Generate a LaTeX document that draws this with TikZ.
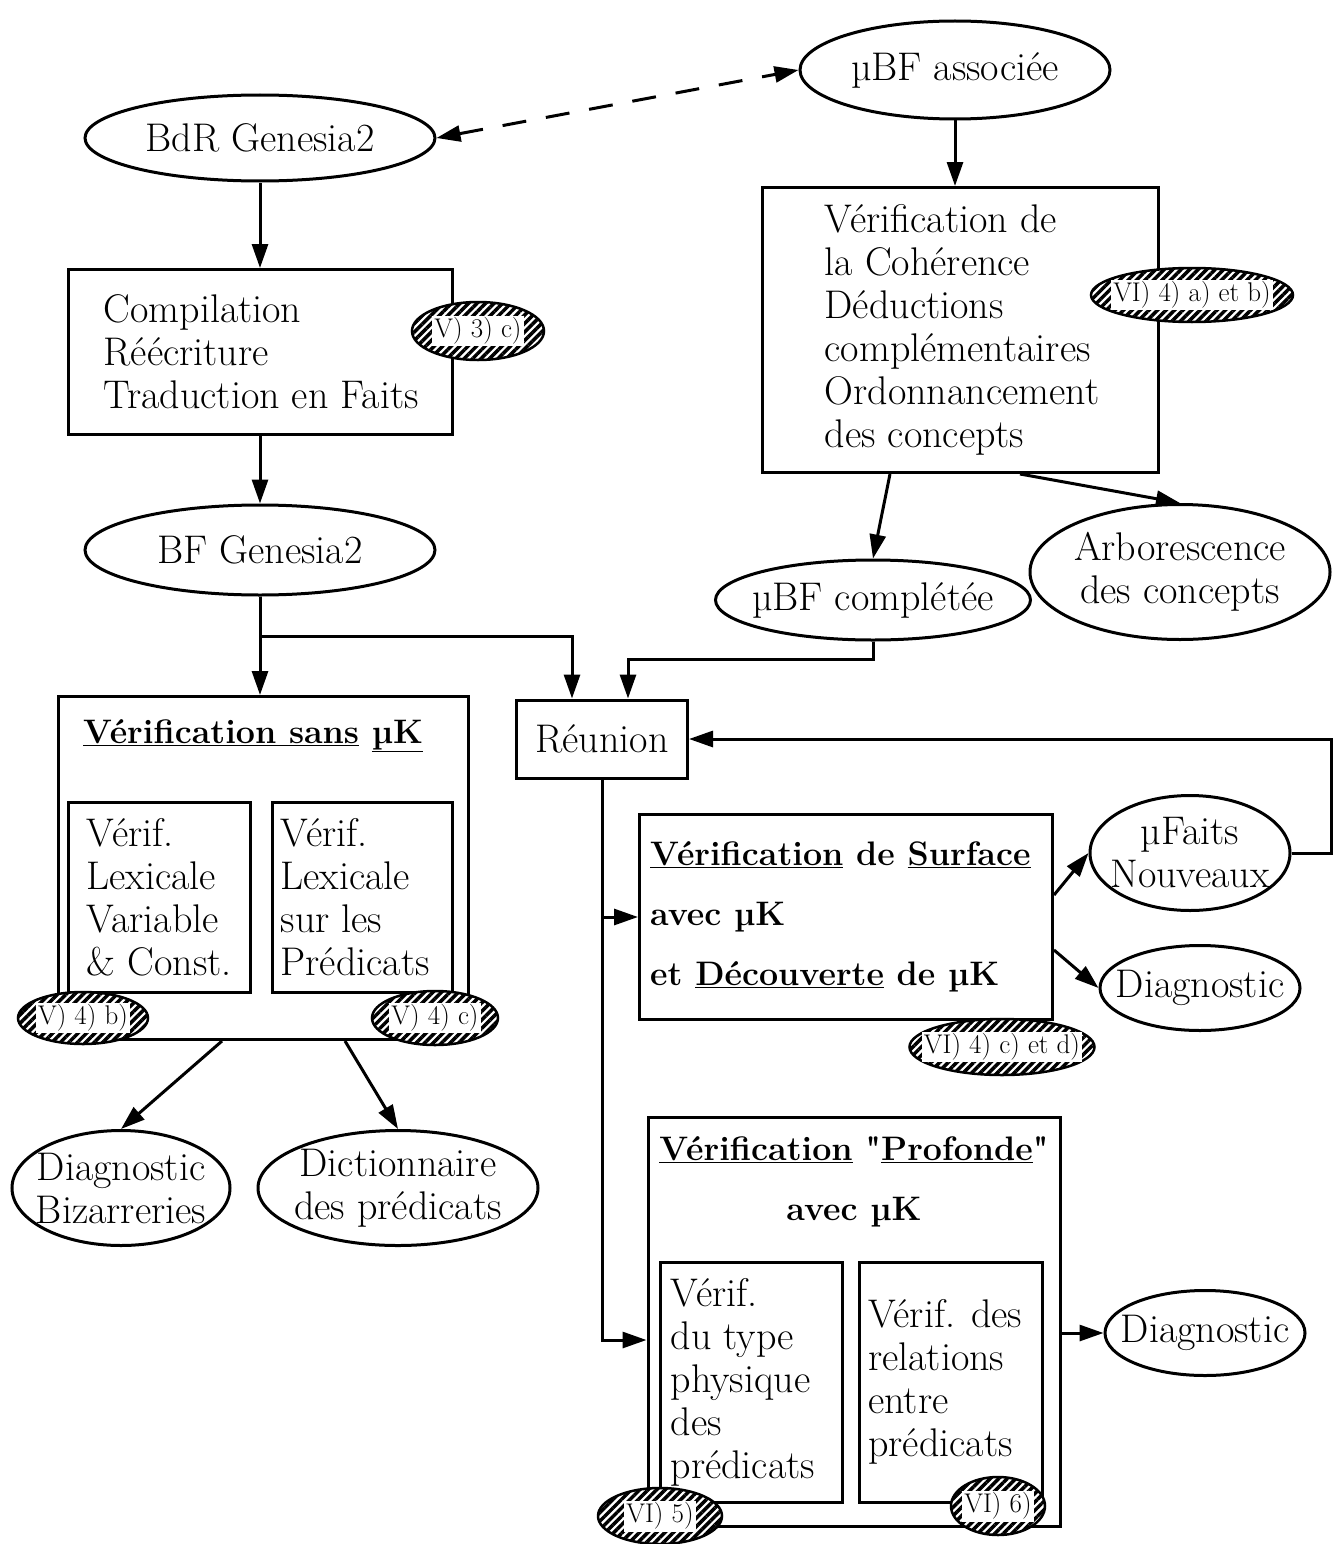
\documentclass[tikz,border=0pt]{standalone}
\usetikzlibrary{shapes.geometric,arrows.meta,patterns.meta,calc}

\newcommand{\txt}{\fontsize{40}{43}\selectfont}
\newcommand{\bfbig}{\fontsize{34}{43}\selectfont\bfseries}
\newcommand{\tagsize}{\fontsize{27}{29}\selectfont}

\tikzset{
	box/.style={draw,line width=3pt,inner sep=0pt},
	oval/.style={ellipse,draw,line width=3pt,inner sep=-20pt,align=center,font=\txt},
	tag/.style={ellipse,draw,line width=2.5pt,inner sep=0pt,preaction={fill=white},
		pattern={Lines[angle=45,distance=6pt,line width=3.5pt]},
		label={[fill=white,inner sep=2pt,font=\tagsize]center:#1}},
	lefttext/.style 2 args={label={[anchor=west,xshift=#1,inner sep=0pt,align=left,font=\txt]west:{#2}}},
	arr/.style={->,line width=3pt},
}

\begin{document}
\begin{tikzpicture}[x=1pt,y=-1pt,>={Triangle[length=24pt,width=16pt]}]
	\useasboundingbox (0,0) rectangle (1340,1544);

	\node[oval,minimum width=350pt,minimum height=86pt] (bdr) at (260,138) {BdR Genesia2};
	\node[box,minimum width=384pt,minimum height=165pt,lefttext={37pt}{Compilation\\Réécriture\\Traduction en Faits}] (comp) at (260,352) {};
	\node[oval,minimum width=350pt,minimum height=90pt] (bf) at (260,550) {BF Genesia2};

	\node[oval,minimum width=310pt,minimum height=98pt] (mubf) at (955,70) {µBF associée};
	\node[box,minimum width=396pt,minimum height=285pt,lefttext={64pt}{Vérification de\\la Cohérence\\Déductions\\complémentaires\\Ordonnancement\\des concepts}] (coh) at (960,330) {};
	\node[oval,minimum width=315pt,minimum height=80pt] (mubfc) at (873,600) {µBF complétée};
	\node[oval,minimum width=300pt,minimum height=135pt] (arbo) at (1180,572) {Arborescence\\des concepts};

	\node[box,minimum width=171pt,minimum height=78pt,font=\txt] (reun) at (602,739) {Réunion};

	\node[box,minimum width=410pt,minimum height=343pt,label={[anchor=north,xshift=-10pt,yshift=-24pt,inner sep=0pt,font=\bfbig]north:{\underline{Vérification sans} \underline{µK}}}] (vsans) at (263,868) {};
	\node[box,minimum width=182pt,minimum height=190pt,lefttext={20pt}{Vérif.\\Lexicale\\Variable\\\& Const.}] (vlex1) at (159,897) {};
	\node[box,minimum width=180pt,minimum height=190pt,lefttext={10pt}{Vérif.\\Lexicale\\sur les\\Prédicats}] (vlex2) at (362,897) {};
	\node[oval,minimum width=218pt,minimum height=115pt] (diagb) at (121,1188) {Diagnostic\\Bizarreries};
	\node[oval,minimum width=280pt,minimum height=115pt] (dico) at (398,1188) {Dictionnaire\\des prédicats};

	\node[box,minimum width=413pt,minimum height=205pt,label={[anchor=west,xshift=12pt,inner sep=0pt,align=left,font=\bfbig]west:{\underline{Vérification} de \underline{Surface}\\[17pt]avec µK\\[17pt]et \underline{Découverte} de µK}}] (vsurf) at (846,917) {};
	\node[oval,minimum width=200pt,minimum height=115pt] (mufaits) at (1190,853) {µFaits\\Nouveaux};
	\node[oval,minimum width=200pt,minimum height=85pt] (diag1) at (1200,988) {Diagnostic};

	\node[box,minimum width=412pt,minimum height=409pt,label={[anchor=north,yshift=-20pt,inner sep=0pt,align=center,font=\bfbig]north:{\underline{Vérification} \textquotedbl\underline{Profonde}\textquotedbl\\[17pt]avec µK}}] (vprof) at (854,1322) {};
	\node[box,minimum width=182pt,minimum height=240pt,lefttext={12pt}{Vérif.\\du type\\physique\\des\\prédicats}] (vtype) at (751,1382) {};
	\node[box,minimum width=183pt,minimum height=240pt,lefttext={10pt}{Vérif. des\\relations\\entre\\prédicats}] (vrel) at (951,1382) {};
	\node[oval,minimum width=200pt,minimum height=85pt] (diag2) at (1205,1333) {Diagnostic};

	\foreach \nm/\px/\py/\w/\h/\lbl in {r1/478/331/132/58/V) 3) c),r2/1192/295/202/54/VI) 4) a) et b),r3/83/1018/130/52/V) 4) b),r4/435/1018/126/54/V) 4) c),r5/1002/1047/185/56/VI) 4) c) et d),r6/660/1516/124/56/VI) 5),r7/998/1506/94/58/VI) 6)} {
		\node[tag=\lbl,minimum width=\w pt,minimum height=\h pt] (\nm) at (\px,\py) {};
	}

	\draw[arr,<->,dash pattern=on 24pt off 20pt] (bdr.east) -- (mubf.west);
	\draw[arr] (bdr.south) -- (comp.north);
	\draw[arr] (comp.south) -- (bf.north);
	\draw[arr] (mubf.south) -- (mubf.south |- coh.north);
	\draw[arr] ($(coh.south)+(-70,0)$) -- (mubfc.north);
	\draw[arr] ($(coh.south)+(60,0)$) -- (arbo.north);
	\coordinate (split) at ($(bf.south)+(0,40)$);
	\draw[arr] (bf.south) -- (bf.south |- vsans.north);
	\draw[arr] (split) -| ($(reun.north)+(-30,0)$);
	\draw[arr] (mubfc.south) -- ++(0,18) -| ($(reun.north)+(26,0)$);
	\draw[arr] (mufaits.east) -- ++(40,0) |- (reun.east);
	\draw[arr] (reun.south) |- (vsurf.west);
	\draw[arr] (reun.south) |- ($(vprof.west)+(0,18)$);
	\draw[arr] ($(vsans.south)+(-41,0)$) -- (diagb.north);
	\draw[arr] ($(vsans.south)+(82,0)$) -- (dico.north);
	\draw[arr] ($(vsurf.east)+(0,-22)$) -- (mufaits.west);
	\draw[arr] ($(vsurf.east)+(0,33)$) -- (diag1.west);
	\draw[arr] (vprof.east |- diag2.west) -- (diag2.west);
\end{tikzpicture}
\end{document}
